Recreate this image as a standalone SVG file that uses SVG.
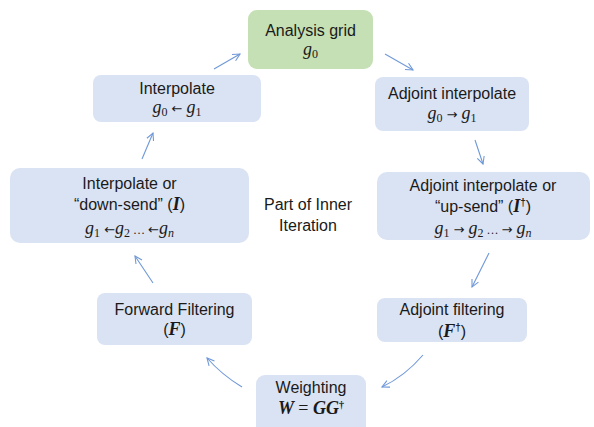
<svg xmlns="http://www.w3.org/2000/svg" width="594" height="427" viewBox="0 0 594 427">
<style>
.box{fill:#dae3f3;}
.green{fill:#c5e0b4;}
text{font-family:"Liberation Sans","DejaVu Sans",sans-serif;font-size:16px;fill:#1a1a1a;text-anchor:middle;}
.m{font-family:"Liberation Serif","DejaVu Serif",serif;font-style:italic;font-size:18px;}
.b{font-weight:bold;}
.s{font-size:12px;font-style:normal;}
.si{font-size:12px;font-style:italic;}
.d{font-size:10px;font-style:normal;font-weight:bold;}
.ar{font-family:"DejaVu Sans",sans-serif;font-style:normal;font-size:13px;}
.conn path{fill:none;stroke:#6f98d8;stroke-width:1.1;marker-end:url(#ah);}
</style>
<defs>
<marker id="ah" viewBox="0 0 10 10" refX="9" refY="5" markerWidth="9" markerHeight="9" markerUnits="userSpaceOnUse" orient="auto">
<path d="M1,1 L9,5 L1,9" fill="none" stroke="#6f98d8" stroke-width="1.2"/>
</marker>
</defs>
<rect width="594" height="427" fill="#ffffff"/>
<g id="analysis">
<rect class="green" x="248" y="10" width="125" height="59" rx="9"/>
<text x="310.5" y="36">Analysis grid</text>
<text x="310.5" y="55" class="m">g<tspan class="s" dy="3">0</tspan></text>
</g>
<g id="interpolate">
<rect class="box" x="93" y="75" width="168" height="47" rx="8"/>
<text x="177" y="94">Interpolate</text>
<text x="177" y="113" class="m">g<tspan class="s" dy="3">0</tspan><tspan class="ar" dy="-3"> ← </tspan>g<tspan class="s" dy="3">1</tspan></text>
</g>
<g id="adjoint-interpolate">
<rect class="box" x="375" y="77" width="154" height="54" rx="8"/>
<text x="452" y="99">Adjoint interpolate</text>
<text x="452" y="119" class="m">g<tspan class="s" dy="3">0</tspan><tspan class="ar" dy="-3"> → </tspan>g<tspan class="s" dy="3">1</tspan></text>
</g>
<g id="interpolate-down-send">
<rect class="box" x="10" y="168" width="239" height="75" rx="10"/>
<text x="129.5" y="189">Interpolate or</text>
<text x="129.5" y="210">“down-send” (<tspan class="m b">I</tspan>)</text>
<text x="129.5" y="234" class="m">g<tspan class="s" dy="3">1</tspan><tspan class="ar" dy="-3"> ←</tspan>g<tspan class="s" dy="3">2</tspan><tspan class="s" dy="-3"> … </tspan><tspan class="ar">←</tspan>g<tspan class="si" dy="3">n</tspan></text>
</g>
<g id="adjoint-up-send">
<rect class="box" x="377" y="172" width="213" height="68" rx="10"/>
<text x="483" y="191">Adjoint interpolate or</text>
<text x="483" y="212">“up-send” (<tspan class="m b">I</tspan><tspan class="d" dy="-6">†</tspan><tspan dy="6">)</tspan></text>
<text x="483" y="234" class="m">g<tspan class="s" dy="3">1</tspan><tspan class="ar" dy="-3"> → </tspan>g<tspan class="s" dy="3">2</tspan><tspan class="s" dy="-3"> … </tspan><tspan class="ar">→ </tspan>g<tspan class="si" dy="3">n</tspan></text>
</g>
<g id="forward-filtering">
<rect class="box" x="97" y="293" width="155" height="52" rx="8"/>
<text x="174.5" y="315">Forward Filtering</text>
<text x="174.5" y="335">(<tspan class="m b">F</tspan>)</text>
</g>
<g id="adjoint-filtering">
<rect class="box" x="377" y="298" width="150" height="44" rx="8"/>
<text x="452" y="315">Adjoint filtering</text>
<text x="452" y="337">(<tspan class="m b">F</tspan><tspan class="d" dy="-6">†</tspan><tspan dy="6">)</tspan></text>
</g>
<g id="weighting">
<rect class="box" x="256" y="375" width="110" height="62" rx="9"/>
<text x="311" y="393">Weighting</text>
<text x="311" y="414" class="m b">W <tspan style="font-style:normal;font-weight:normal">=</tspan> GG<tspan class="d" dy="-6">†</tspan></text>
</g>
<g id="label">
<text x="308" y="210">Part of Inner</text>
<text x="308" y="231">Iteration</text>
</g>
<g class="conn" id="connectors">
<path d="M214,69 L240,54"/>
<path d="M385,54 L413,70"/>
<path d="M475,140 L483,164"/>
<path d="M489,253 L472,287"/>
<path d="M423,355 Q405,376 382,387"/>
<path d="M242,387 Q222,375 207,358"/>
<path d="M153,283 L135,256"/>
<path d="M142,159 L153,133"/>
</g>
</svg>
